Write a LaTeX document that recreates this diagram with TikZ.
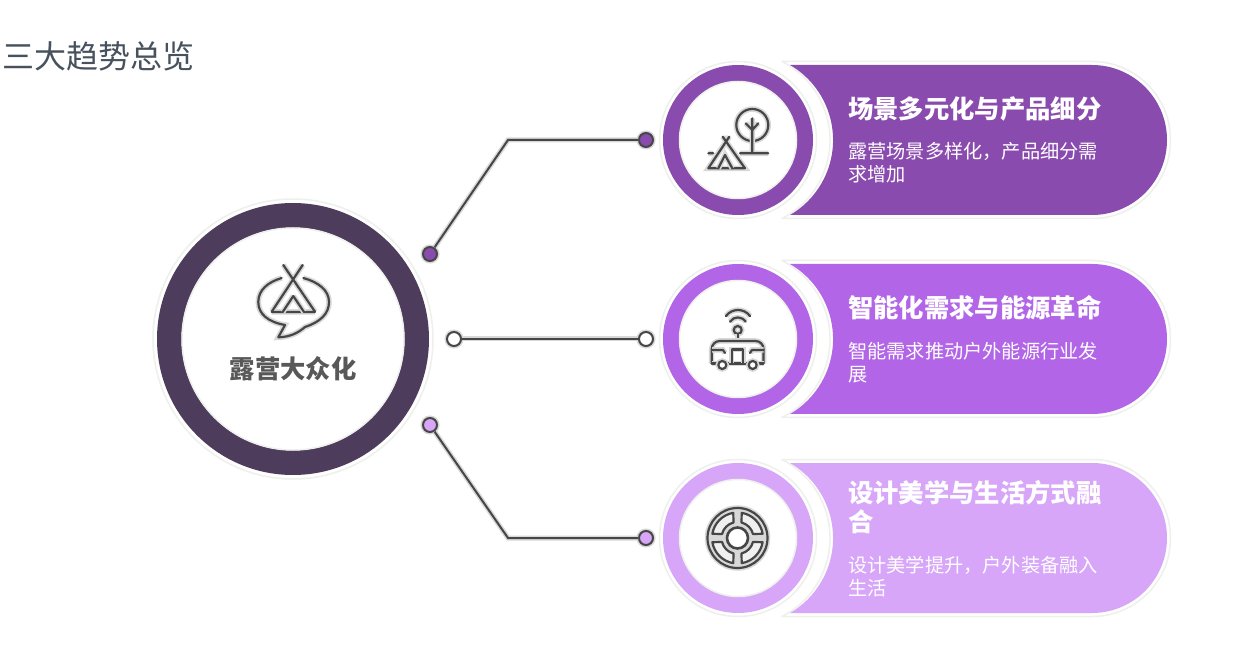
\documentclass[tikz,border=0pt]{standalone}
\usepackage{fontspec}
\setmainfont{Noto Sans CJK SC}
\usetikzlibrary{positioning}
\def\px{0.75pt}
\definecolor{trendone}{HTML}{8A4BAF}
\definecolor{trendtwo}{HTML}{B265E6}
\definecolor{trendthree}{HTML}{D7A6F8}
\definecolor{hubcol}{HTML}{4E3C5C}
\definecolor{halocol}{HTML}{EEF0EC}
\definecolor{inkcol}{HTML}{464646}
\definecolor{glowcol}{HTML}{D8D8D8}
\definecolor{titlecol}{HTML}{47525E}
\tikzset{
  halo/.style={circle,inner sep=0pt,draw=halocol,fill=white,line width=1.5*\px},
  ring/.style={circle,inner sep=0pt,draw=#1},
  dot/.style={circle,inner sep=0pt,minimum size=14*\px,draw=inkcol,fill=#1,line width=2*\px,
    preaction={draw=glowcol,line width=5*\px}},
  link/.style={draw=inkcol,line width=2*\px,preaction={draw=glowcol,line width=5*\px}},
  icon/.style={draw=inkcol,line width=2.2*\px,line join=round,line cap=round,
    preaction={draw=glowcol,line width=5.5*\px}},
  headline/.style={anchor=west,inner sep=0pt,align=left,text=white,font=\fontsize{19pt}{21.75pt}\selectfont\bfseries},
  subline/.style={anchor=west,inner sep=0pt,align=left,text=white,font=\fontsize{14.4pt}{17.25pt}\selectfont},
  banner/.pic={
    \draw[draw=halocol,fill=white,line width=1.5*\px,line join=round] (44,-78.5) -- (354,-78.5)
      arc[start angle=-90,end angle=90,radius=78.5] -- (44,78.5)
      arc[start angle=62.9,end angle=-62.9,radius=88.2] -- cycle;
    \fill[#1] (52,-75) -- (354,-75)
      arc[start angle=-90,end angle=90,radius=75] -- (52,75)
      arc[start angle=59.7,end angle=-59.7,radius=86.9] -- cycle;
  },
}
\begin{document}
\begin{tikzpicture}[x=0.75pt,y=0.75pt,yscale=-1]
  \useasboundingbox[fill=white] (0,0) rectangle (1254,652);

  \node[anchor=west,inner sep=0pt,text=titlecol,font=\fontsize{24pt}{28pt}\selectfont] (title) at (2,56) {三大趋势总览};

  % hub
  \node[halo,minimum size=280*\px] (hubhalo) at (293,339) {};
  \node[ring=hubcol,minimum size=247.5*\px,line width=24.5*\px] (hubring) at (hubhalo) {};
  \node[ring=halocol,minimum size=222*\px,line width=1.5*\px] (hubcore) at (hubhalo) {};
  \node[inner sep=0pt,text=inkcol!90,font=\fontsize{19pt}{22pt}\selectfont\bfseries] (hublabel) at (293,369) {露营大众化};

  \draw[icon] (283.3,265) -- (315,311.7) (302.7,265) -- (271.7,311.7) (271.7,312) -- (315,312);
  \draw[icon] (293.3,296) -- (282.7,312) (293.3,296) -- (304,312);
  \draw[icon] (281.7,278) .. controls (268,282) and (258.3,290) .. (258.3,302)
    .. controls (258.3,314) and (268,322) .. (285,325) -- (278.3,337.3)
    .. controls (290,337) and (298,333) .. (305,327)
    .. controls (320,322) and (329,314) .. (329,302)
    .. controls (329,290) and (318,282) .. (303.3,278);

  % side circles
  \pic at (738,140) {banner=trendone};
  \node[halo,minimum size=157*\px] (sideone) at (738,140) {};
  \node[ring=trendone,minimum size=133.5*\px,line width=16.5*\px] (sideonering) at (sideone) {};
  \node[ring=halocol,minimum size=117*\px,line width=1.5*\px] (sideonecore) at (sideone) {};

  \pic at (738,339) {banner=trendtwo};
  \node[halo,minimum size=157*\px] (sidetwo) at (738,339) {};
  \node[ring=trendtwo,minimum size=133.5*\px,line width=16.5*\px] (sidetworing) at (sidetwo) {};
  \node[ring=halocol,minimum size=117*\px,line width=1.5*\px] (sidetwocore) at (sidetwo) {};

  \pic at (738,538) {banner=trendthree};
  \node[halo,minimum size=157*\px] (sidethree) at (738,538) {};
  \node[ring=trendthree,minimum size=133.5*\px,line width=16.5*\px] (sidethreering) at (sidethree) {};
  \node[ring=halocol,minimum size=117*\px,line width=1.5*\px] (sidethreecore) at (sidethree) {};

  % connectors
  \node[dot=trendone] (hubdotone) at (430,254) {};
  \node[dot=white] (hubdottwo) at (454,339) {};
  \node[dot=trendthree] (hubdotthree) at (430,425) {};
  \node[dot=trendone] (sidedotone) at (646,140) {};
  \node[dot=white] (sidedottwo) at (646,339) {};
  \node[dot=trendthree] (sidedotthree) at (646,538) {};
  \coordinate (elbowone) at (508,140);
  \coordinate (elbowthree) at (508,538);
  \draw[link] (hubdotone) -- (elbowone) -- (sidedotone);
  \draw[link] (hubdottwo) -- (sidedottwo);
  \draw[link] (hubdotthree) -- (elbowthree) -- (sidedotthree);

  % tree and tent
  \draw[icon] (752.3,125) circle[radius=16];
  \draw[icon] (752.3,118.3) -- (752.3,153.3) (745.7,123.3) -- (752.3,130) -- (758.3,123.3) (740,153.3) -- (768.3,153.3);
  \draw[icon] (729.3,136.7) -- (708.3,168.3) -- (745,168.3) -- (722.7,136.7);
  \draw[icon] (718.3,168.3) -- (725,155) -- (732.3,168.3) (708.3,153.3) -- (713.3,153.3);

  % bus
  \draw[icon] (726,316) .. controls (732,308) and (744,308) .. (750,316);
  \draw[icon] (730,321.7) .. controls (734,316) and (741.5,316) .. (745.7,321.7);
  \draw[icon] (737.7,330) circle[radius=4];
  \draw[icon] (737.7,334) -- (737.7,341);
  \draw[icon,rounded corners=6pt] (711.7,363.5) -- (711.7,341) -- (763.5,341) -- (763.5,363.5);
  \draw[icon] (711.7,363.5) -- (763.5,363.5);
  \draw[icon] (731.7,363.5) -- (731.7,349.5) -- (743.3,349.5) -- (743.3,363.5);
  \draw[icon] (712,350) -- (723,350) -- (725,353) (763.5,350) -- (752,350) -- (750,353);
  \draw[icon,fill=white] (722.3,365) circle[radius=4];
  \draw[icon,fill=white] (752.7,365) circle[radius=4];

  % wheel
  \draw[icon,fill=glowcol] (737.5,538) circle[radius=30];
  \foreach \a in {0,90,180,270}{
    \draw[draw=inkcol,line width=2.2*\px,line join=round,fill=gray!12,shift={(737.5,538)},rotate=\a] (9.5:25.5) arc[start angle=9.5,end angle=80.5,radius=25.5]
      -- (75.5:16) arc[start angle=75.5,end angle=14.5,radius=16] -- cycle;
  }
  \draw[draw=inkcol,line width=2.6*\px,fill=white] (737.5,538) circle[radius=10.5];

  % texts
  \node[headline] (headone) at (848,109) {场景多元化与产品细分};
  \node[subline] (subone) at (848,162.5) {露营场景多样化，产品细分需\\求增加};
  \node[headline] (headtwo) at (848,308) {智能化需求与能源革命};
  \node[subline] (subtwo) at (848,362.5) {智能需求推动户外能源行业发\\展};
  \node[headline] (headthree) at (848,507.5) {设计美学与生活方式融\\合};
  \node[subline] (subthree) at (848,576.5) {设计美学提升，户外装备融入\\生活};
\end{tikzpicture}
\end{document}
